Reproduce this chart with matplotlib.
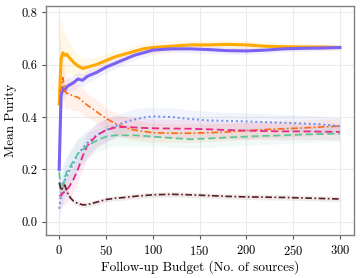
import matplotlib
matplotlib.use("Agg")
import matplotlib.pyplot as plt
import numpy as np

plt.rcParams['font.family'] = ['cmr10', 'DejaVu Serif']
plt.rcParams['axes.formatter.use_mathtext'] = True

# follow-up budget sample points
budget = [0, 2, 4, 6, 8, 10, 15, 20, 25, 30, 40, 50, 60, 70, 80, 90, 100,
          120, 140, 160, 180, 200, 220, 240, 260, 280, 300]

orange_mean = [0.45, 0.62, 0.645, 0.635, 0.64, 0.63, 0.61, 0.595, 0.585, 0.59, 0.60,
               0.615, 0.63, 0.64, 0.65, 0.66, 0.665, 0.67, 0.675, 0.675, 0.677,
               0.675, 0.67, 0.668, 0.667, 0.667, 0.665]
orange_std = [0.3, 0.16, 0.1, 0.08, 0.07, 0.06, 0.05, 0.045, 0.04, 0.035, 0.03,
              0.025, 0.025, 0.02, 0.02, 0.02, 0.02, 0.02, 0.018, 0.018, 0.017,
              0.016, 0.015, 0.014, 0.013, 0.012, 0.012]

purple_mean = [0.2, 0.48, 0.51, 0.50, 0.515, 0.52, 0.53, 0.545, 0.54, 0.555, 0.57,
               0.59, 0.605, 0.62, 0.635, 0.645, 0.655, 0.66, 0.66, 0.657, 0.653,
               0.652, 0.655, 0.66, 0.662, 0.663, 0.665]
purple_std = [0.15, 0.06, 0.04, 0.035, 0.03, 0.03, 0.03, 0.028, 0.025, 0.025, 0.022,
              0.02, 0.02, 0.018, 0.018, 0.017, 0.016, 0.015, 0.015, 0.015, 0.014,
              0.014, 0.013, 0.012, 0.012, 0.011, 0.01]

redorange_mean = [0.50, 0.50, 0.55, 0.50, 0.49, 0.49, 0.48, 0.475, 0.46, 0.445, 0.42,
                  0.395, 0.375, 0.36, 0.35, 0.345, 0.34, 0.338, 0.338, 0.34, 0.343,
                  0.348, 0.352, 0.355, 0.358, 0.362, 0.365]
redorange_std = [0.25, 0.12, 0.08, 0.07, 0.06, 0.06, 0.055, 0.05, 0.05, 0.045, 0.045,
                 0.04, 0.04, 0.04, 0.04, 0.038, 0.036, 0.035, 0.035, 0.034, 0.033,
                 0.033, 0.032, 0.032, 0.031, 0.03, 0.03]

blue_mean = [0.05, 0.10, 0.15, 0.16, 0.17, 0.19, 0.22, 0.26, 0.28, 0.30, 0.33,
             0.35, 0.365, 0.38, 0.39, 0.398, 0.402, 0.40, 0.392, 0.387, 0.385,
             0.383, 0.38, 0.378, 0.375, 0.372, 0.365]
blue_std = [0.05, 0.06, 0.07, 0.07, 0.07, 0.07, 0.065, 0.06, 0.055, 0.05, 0.045,
            0.045, 0.04, 0.04, 0.04, 0.038, 0.036, 0.035, 0.035, 0.034, 0.033,
            0.033, 0.032, 0.032, 0.031, 0.03, 0.03]

pink_mean = [0.10, 0.10, 0.11, 0.115, 0.125, 0.13, 0.16, 0.20, 0.25, 0.29, 0.33,
             0.35, 0.36, 0.362, 0.36, 0.358, 0.357, 0.356, 0.355, 0.353, 0.35,
             0.348, 0.346, 0.345, 0.345, 0.344, 0.343]
pink_std = [0.05, 0.05, 0.05, 0.05, 0.05, 0.05, 0.05, 0.05, 0.05, 0.05, 0.045,
            0.045, 0.04, 0.04, 0.04, 0.038, 0.036, 0.035, 0.035, 0.034, 0.033,
            0.033, 0.032, 0.032, 0.031, 0.03, 0.03]

green_mean = [0.19, 0.12, 0.13, 0.17, 0.19, 0.20, 0.23, 0.26, 0.275, 0.29, 0.31,
              0.325, 0.33, 0.33, 0.33, 0.328, 0.325, 0.32, 0.315, 0.318, 0.322,
              0.325, 0.328, 0.33, 0.333, 0.335, 0.337]
green_std = [0.06, 0.06, 0.06, 0.06, 0.06, 0.06, 0.06, 0.055, 0.05, 0.05, 0.045,
             0.045, 0.04, 0.04, 0.04, 0.038, 0.036, 0.035, 0.035, 0.034, 0.033,
             0.033, 0.032, 0.032, 0.031, 0.03, 0.03]

brown_mean = [0.15, 0.12, 0.13, 0.14, 0.12, 0.10, 0.08, 0.07, 0.065, 0.065, 0.075,
              0.085, 0.09, 0.093, 0.097, 0.10, 0.103, 0.105, 0.103, 0.10, 0.097,
              0.095, 0.094, 0.093, 0.091, 0.089, 0.087]
brown_std = [0.03, 0.03, 0.025, 0.02, 0.015, 0.012, 0.01, 0.01, 0.01, 0.01, 0.01,
             0.01, 0.01, 0.01, 0.01, 0.01, 0.01, 0.01, 0.01, 0.01, 0.01,
             0.01, 0.01, 0.01, 0.01, 0.01, 0.01]

series = [
    (orange_mean, orange_std, '#ffaa00', '-', 2.2),
    (purple_mean, purple_std, '#7b61f5', '-', 2.2),
    (redorange_mean, redorange_std, '#ff6a10', (0, (4, 1.5, 1, 1.5)), 1.2),
    (blue_mean, blue_std, '#6e8cf0', (0, (1, 1.5)), 1.4),
    (pink_mean, pink_std, '#e8288a', (0, (4, 2)), 1.3),
    (green_mean, green_std, '#5cc69a', (0, (4, 2)), 1.3),
    (brown_mean, brown_std, '#5a1e24', (0, (4, 1.5, 1, 1.5)), 1.2),
]

fig = plt.figure(figsize=(3.6, 2.78), dpi=100)
ax = fig.add_axes([0.128, 0.155, 0.855, 0.823])

x = np.array(budget)
for mean, std, color, ls, lw in series:
    m = np.array(mean)
    s = np.array(std)
    ax.fill_between(x, m - s, m + s, color=color, alpha=0.09, lw=0)
    ax.plot(x, m, color=color, linestyle=ls, lw=lw)

ax.set_xlim(-14, 315)
ax.set_ylim(-0.05, 0.823)
ax.set_xticks([0, 50, 100, 150, 200, 250, 300])
ax.set_yticks([0.0, 0.2, 0.4, 0.6, 0.8])
ax.set_yticklabels(['0.0', '0.2', '0.4', '0.6', '0.8'])
ax.grid(True, color='#ebebeb', lw=0.8)
ax.set_axisbelow(True)
for sp in ax.spines.values():
    sp.set_color('#808080')
    sp.set_linewidth(1.0)
ax.tick_params(labelsize=9, length=3, color='#555555')
ax.set_xlabel('Follow-up Budget (No. of sources)', fontsize=9.5, labelpad=2)
ax.set_ylabel('Mean Purity', fontsize=9.5, labelpad=3)

fig.savefig('out.png', dpi=100)
